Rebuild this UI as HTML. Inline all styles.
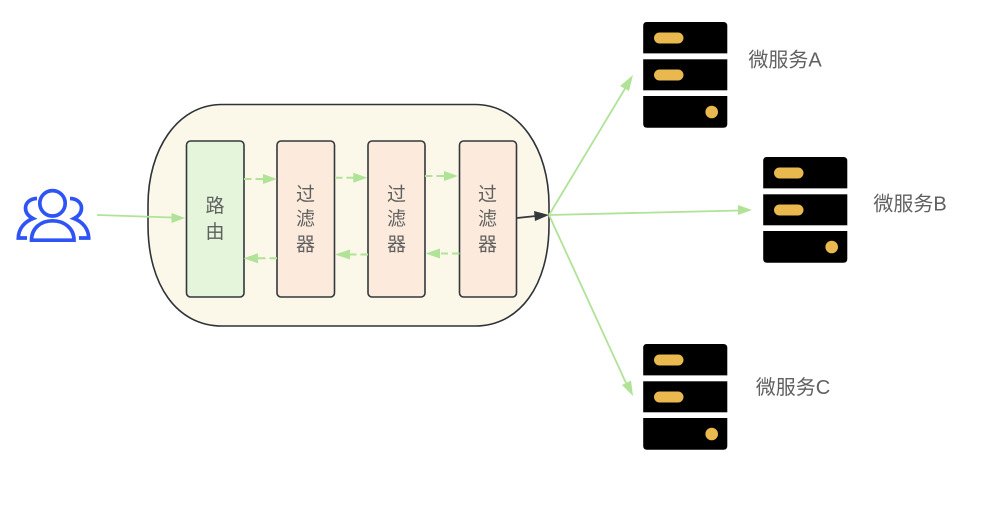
<!DOCTYPE html>
<html><head><meta charset="utf-8"><style>
html,body{margin:0;padding:0;background:#fff}
svg{display:block}
text{font-family:"Liberation Sans","Noto Sans CJK SC",sans-serif;fill:#606060;text-anchor:middle}
</style></head><body>
<svg width="991" height="517" viewBox="0 0 991 517" xmlns="http://www.w3.org/2000/svg">
<defs>
<g id="srv">
<path d="M646.700 22H723.300Q727.300 22 727.300 26V53.400H643.200V26Q643.200 22 646.700 22Z" fill="#000"/>
<rect x="643.200" y="59.300" width="84.100" height="31" fill="#000"/>
<path d="M643.200 96H727.300V124Q727.300 127.700 723.300 127.700H647.200Q643.200 127.700 643.200 124Z" fill="#000"/>
<rect x="654" y="32.500" width="29.500" height="11" rx="5.500" fill="#e9b84f"/>
<rect x="654" y="69.500" width="29.500" height="11" rx="5.500" fill="#e9b84f"/>
<circle cx="711.700" cy="112" r="6.300" fill="#e9b84f"/>
</g>
</defs>

<!-- users icon -->
<g fill="none" stroke="#2f54f5" stroke-width="3.700">
<circle cx="52.500" cy="203.300" r="12.700"/>
<path d="M31.500 240.200C31.500 228 41 220.800 52.500 220.800C64 220.800 74 228 74 240.200Z"/>
<path d="M37 198.500C30 198.500 25.500 203 25.500 208C25.500 213 29 216.500 33 218.500C24 222 18.500 229 18.300 238H27"/>
<path d="M70 198.500C77 198.500 81.500 203 81.500 208C81.500 213 78 216.500 74 218.500C83 222 88.500 229 88.700 238H79"/>
</g>

<!-- container -->
<path d="M222 104.500H475C520 104.500 549 150 549 205V225C549 285 520 326 475 326H222C177 326 148 285 148 225V205C148 150 177 104.500 222 104.500Z" fill="#fcf8e9" stroke="#2e3338" stroke-width="1.600"/>

<!-- boxes -->
<rect x="186.500" y="141" width="57.500" height="156" rx="4" fill="#e4f5dc" stroke="#33383d" stroke-width="1.600"/>
<rect x="277" y="141" width="57.500" height="156" rx="4" fill="#fcebdc" stroke="#33383d" stroke-width="1.600"/>
<rect x="368" y="141" width="57" height="156" rx="4" fill="#fcebdc" stroke="#33383d" stroke-width="1.600"/>
<rect x="459.500" y="141" width="57" height="156" rx="4" fill="#fcebdc" stroke="#33383d" stroke-width="1.600"/>

<!-- labels -->
<text x="215" y="212" font-size="19">路</text>
<text x="215" y="238" font-size="19">由</text>
<text x="305.500" y="200.500" font-size="19">过</text>
<text x="305.500" y="225" font-size="19">滤</text>
<text x="305.500" y="250.500" font-size="19">器</text>
<text x="396.500" y="200.500" font-size="19">过</text>
<text x="396.500" y="225" font-size="19">滤</text>
<text x="396.500" y="250.500" font-size="19">器</text>
<text x="487.500" y="200.500" font-size="19">过</text>
<text x="487.500" y="225" font-size="19">滤</text>
<text x="487.500" y="250.500" font-size="19">器</text>

<!-- entry arrow -->
<line x1="97" y1="215" x2="172" y2="217.500" stroke="#b0e298" stroke-width="1.800"/>
<polygon points="185,218 171.500,213 171.500,223" fill="#b0e298"/>

<!-- dashed arrows -->
<g stroke="#b0e298" stroke-width="2" stroke-dasharray="7.500 4" fill="none">
<line x1="244" y1="179" x2="264" y2="179"/>
<line x1="335" y1="177.700" x2="354" y2="177.700"/>
<line x1="425" y1="176" x2="446" y2="176"/>
<line x1="277" y1="258.300" x2="258" y2="258.300"/>
<line x1="368" y1="254.500" x2="350" y2="254.500"/>
<line x1="459.500" y1="253.500" x2="441" y2="253.500"/>
</g>
<g fill="#b0e298">
<polygon points="277,179 263,174 263,184"/>
<polygon points="367.300,177.700 353.300,172.700 353.300,182.700"/>
<polygon points="458,176 444,171 444,181"/>
<polygon points="243.500,258.300 258,253.300 258,263.300"/>
<polygon points="335,254.500 350,249.500 350,259.500"/>
<polygon points="425.500,253.500 440,248.500 440,258.500"/>
</g>

<!-- black exit arrow -->
<line x1="517" y1="218" x2="536" y2="216" stroke="#33383d" stroke-width="1.800"/>
<polygon points="549,215 534,211 535,221" fill="#33383d"/>

<!-- service arrows -->
<g stroke="#b0e298" stroke-width="1.800" fill="none">
<line x1="549" y1="215" x2="626" y2="87"/>
<line x1="549" y1="215" x2="739" y2="210.500"/>
<line x1="549" y1="215" x2="626" y2="383"/>
</g>
<g fill="#b0e298">
<polygon points="633,75 620,86 629,91"/>
<polygon points="752,210 738,205 738,215"/>
<polygon points="633,396 622,385 631,380.500"/>
</g>

<use href="#srv"/>
<use href="#srv" x="120" y="135"/>
<use href="#srv" y="322"/>

<text x="785" y="66.500" font-size="20">微服务A</text>
<text x="910" y="210.500" font-size="20">微服务B</text>
<text x="793" y="394" font-size="20">微服务C</text>
</svg>
</body></html>
